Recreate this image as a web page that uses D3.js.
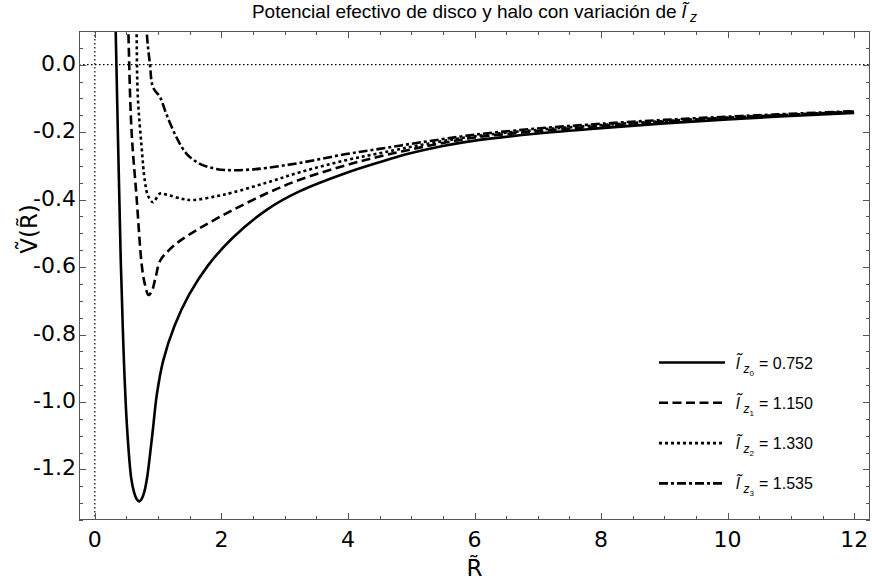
<!DOCTYPE html>
<html>
<head>
<meta charset="utf-8">
<script src="https://cdn.jsdelivr.net/npm/d3@7/dist/d3.min.js"></script>
<style>
  html, body { margin: 0; padding: 0; background: #fff; }
  svg { display: block; }
</style>
</head>
<body>
<svg id="chart" width="872" height="582"></svg>
<script>
// Effective potential curves for four values of the angular momentum l_z
const lzLabels = ["0.752", "1.150", "1.330", "1.535"];

const r0 = [0.315, 0.33, 0.41, 0.42, 0.46, 0.51, 0.575, 0.62, 0.66, 0.70, 0.74, 0.78, 0.825, 0.87, 0.92, 0.98, 1.08, 1.26, 1.49, 1.79, 2.18, 2.71, 3.24, 3.97, 4.50, 5.0, 5.5, 6.0, 7.0, 8.0, 9.0, 10.0, 11.0, 12.0];
const v0 = [0.25, 0.10, -0.582, -0.641, -0.879, -1.078, -1.226, -1.268, -1.288, -1.295, -1.288, -1.268, -1.226, -1.160, -1.078, -0.978, -0.878, -0.774, -0.682, -0.595, -0.513, -0.431, -0.375, -0.321, -0.289, -0.262, -0.241, -0.225, -0.204, -0.188, -0.174, -0.162, -0.152, -0.143];

const r1 = [0.51, 0.53, 0.58, 0.66, 0.74, 0.79, 0.85, 0.90, 0.96, 1.03, 1.16, 1.34, 1.61, 1.87, 2.18, 2.71, 3.24, 3.97, 4.50, 5.0, 5.5, 6.0, 7.0, 8.0, 9.0, 10.0, 11.0, 12.0];
const v1 = [0.25, 0.10, -0.195, -0.393, -0.591, -0.650, -0.683, -0.672, -0.631, -0.582, -0.552, -0.523, -0.490, -0.462, -0.431, -0.382, -0.341, -0.298, -0.272, -0.251, -0.232, -0.216, -0.197, -0.182, -0.169, -0.158, -0.149, -0.140];

const r2 = [0.65, 0.66, 0.68, 0.74, 0.79, 0.84, 0.92, 1.03, 1.13, 1.39, 1.55, 1.92, 2.18, 2.71, 3.24, 3.97, 4.50, 5.0, 5.5, 6.0, 7.0, 8.0, 9.0, 10.0, 11.0, 12.0];
const v2 = [0.25, 0.10, -0.096, -0.245, -0.344, -0.388, -0.408, -0.382, -0.385, -0.398, -0.401, -0.390, -0.379, -0.350, -0.319, -0.283, -0.2625, -0.2435, -0.2265, -0.212, -0.193, -0.179, -0.167, -0.157, -0.148, -0.139];

const r3 = [0.81, 0.82, 0.87, 0.92, 1.03, 1.13, 1.29, 1.45, 1.66, 1.92, 2.18, 2.45, 2.71, 3.24, 3.97, 4.50, 5.0, 5.5, 6.0, 7.0, 8.0, 9.0, 10.0, 11.0, 12.0];
const v3 = [0.25, 0.10, 0.003, -0.067, -0.096, -0.146, -0.215, -0.264, -0.294, -0.309, -0.313, -0.311, -0.306, -0.291, -0.265, -0.2495, -0.2345, -0.2205, -0.2075, -0.189, -0.175, -0.1635, -0.154, -0.1455, -0.1375];

const xTicks = [0, 2, 4, 6, 8, 10, 12];
const yTicks = [0.0, -0.2, -0.4, -0.6, -0.8, -1.0, -1.2];

const series = [
  { r: r0, v: v0, dash: null,          label: lzLabels[0], sub: "0" },
  { r: r1, v: v1, dash: "9,4.5",       label: lzLabels[1], sub: "1" },
  { r: r2, v: v2, dash: "3,3",         label: lzLabels[2], sub: "2" },
  { r: r3, v: v3, dash: "9,3,3,3",     label: lzLabels[3], sub: "3" }
];

const svg = d3.select("#chart");
const L = 79, R = 870, T = 31, B = 520;

const x = d3.scaleLinear().domain([-0.25, 12.25]).range([L, R]);
const y = d3.scaleLinear().domain([-1.35, 0.1]).range([B, T]);

svg.append("defs").append("clipPath").attr("id", "plotclip")
  .append("rect").attr("x", L).attr("y", T).attr("width", R - L).attr("height", B - T);

// Reference lines at V = 0 and R = 0
const ref = svg.append("g").attr("clip-path", "url(#plotclip)");
ref.append("line").attr("x1", L).attr("x2", R).attr("y1", y(0)).attr("y2", y(0))
  .attr("stroke", "#000").attr("stroke-width", 1.2).attr("stroke-dasharray", "1.5,2.5");
ref.append("line").attr("x1", x(0)).attr("x2", x(0)).attr("y1", T).attr("y2", B)
  .attr("stroke", "#000").attr("stroke-width", 1.2).attr("stroke-dasharray", "1.5,2.5");

// Curves
const line = d3.line().x(d => x(d[0])).y(d => y(d[1])).curve(d3.curveCatmullRom.alpha(0.5));
const curves = svg.append("g").attr("clip-path", "url(#plotclip)");
series.forEach(s => {
  const pts = s.r.map((rv, i) => [rv, s.v[i]]);
  curves.append("path").datum(pts)
    .attr("d", line)
    .attr("fill", "none")
    .attr("stroke", "#000")
    .attr("stroke-width", 2.6)
    .attr("stroke-dasharray", s.dash);
});

// Frame with inward ticks on all four sides
const frameColor = "#555";
const fr = svg.append("g");
fr.append("rect").attr("x", L + 0.5).attr("y", T + 0.5).attr("width", R - L - 1).attr("height", B - T - 1)
  .attr("fill", "none").attr("stroke", frameColor).attr("stroke-width", 1);

const xMinor = d3.range(0, 12.01, 0.5);
xMinor.forEach(t => {
  const major = Math.abs(t % 2) < 1e-9;
  const len = major ? 7 : 4;
  const px = Math.round(x(t)) + 0.5;
  fr.append("line").attr("x1", px).attr("x2", px).attr("y1", B).attr("y2", B - len).attr("stroke", frameColor);
  fr.append("line").attr("x1", px).attr("x2", px).attr("y1", T).attr("y2", T + len).attr("stroke", frameColor);
});
const yMinor = d3.range(-1.35, 0.1001, 0.05);
yMinor.forEach(t => {
  const k = Math.round(t * 100);
  const major = k % 20 === 0;
  const len = major ? 7 : 4;
  const py = Math.round(y(t)) + 0.5;
  fr.append("line").attr("x1", L).attr("x2", L + len).attr("y1", py).attr("y2", py).attr("stroke", frameColor);
  fr.append("line").attr("x1", R).attr("x2", R - len).attr("y1", py).attr("y2", py).attr("stroke", frameColor);
});

// Tick labels
const tickFont = "'DejaVu Sans', sans-serif";
svg.append("g").selectAll("text").data(xTicks).join("text")
  .attr("x", d => x(d)).attr("y", 547)
  .attr("text-anchor", "middle")
  .attr("font-family", tickFont).attr("font-size", 22)
  .text(d => d3.format("d")(d));

svg.append("g").selectAll("text").data(yTicks).join("text")
  .attr("x", 76).attr("y", d => y(d) + 6)
  .attr("text-anchor", "end")
  .attr("font-family", tickFont).attr("font-size", 22)
  .text(d => d3.format(".1f")(d).replace("\u2212", "-"));

// Axis titles
svg.append("text")
  .attr("x", x(6)).attr("y", 576)
  .attr("text-anchor", "middle")
  .attr("font-family", tickFont).attr("font-size", 23)
  .text("R\u0303");

svg.append("text")
  .attr("transform", "translate(37," + 229 + ") rotate(-90)")
  .attr("text-anchor", "middle")
  .attr("font-family", tickFont).attr("font-size", 23)
  .text("\u1E7C(R\u0303)");

// Title
const title = svg.append("text")
  .attr("x", (L + R) / 2).attr("y", 18)
  .attr("text-anchor", "middle")
  .attr("font-family", "'Liberation Sans', Arial, sans-serif").attr("font-size", 19);
title.append("tspan").text("Potencial efectivo de disco y halo con variación de ");
title.append("tspan").attr("font-style", "italic").text("l\u0303");
title.append("tspan").attr("font-style", "italic").attr("font-size", 14).attr("dx", 4).attr("dy", 4).text("z");

// Legend
const leg = svg.append("g");
series.forEach((s, i) => {
  const ly = 362.5 + i * 40.3;
  leg.append("line").attr("x1", 659).attr("x2", 725).attr("y1", ly).attr("y2", ly)
    .attr("stroke", "#000").attr("stroke-width", 2.6).attr("stroke-dasharray", s.dash);
  const t = leg.append("text")
    .attr("x", 736).attr("y", ly + 6)
    .attr("font-family", "'Liberation Sans', Arial, sans-serif").attr("font-size", 16);
  t.append("tspan").attr("font-style", "italic").text("l\u0303");
  t.append("tspan").attr("font-style", "italic").attr("font-size", 12).attr("dx", 4).attr("dy", 4).text("z");
  t.append("tspan").attr("font-size", 8).attr("dy", 3).text(s.sub);
  t.append("tspan").attr("dy", -7).attr("dx", 5).text("= " + s.label);
});
</script>
</body>
</html>
